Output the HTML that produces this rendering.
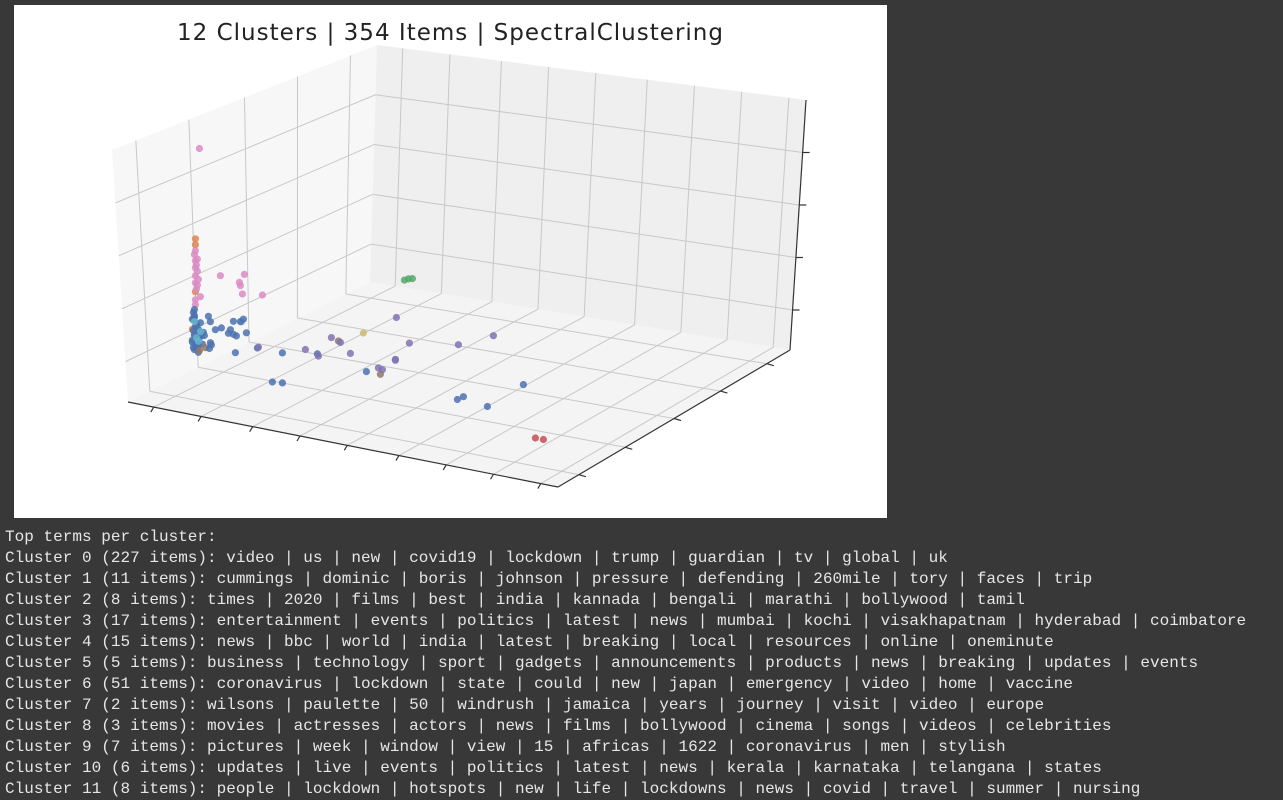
<!DOCTYPE html>
<html><head><meta charset="utf-8"><style>
html,body{margin:0;padding:0;background:#383838;width:1283px;height:784px;overflow:hidden}
#fig{position:absolute;left:14px;top:5px;width:873px;height:513px;background:#fff}
#out{position:absolute;left:5px;top:527px;font-family:"Liberation Mono","DejaVu Sans Mono",monospace;font-size:16px;letter-spacing:0.02px;line-height:21px;color:#e6e6e6;white-space:pre}
</style></head><body>
<div id="fig"></div>
<svg id="chart" width="1283" height="520" style="position:absolute;left:0;top:0">
<text x="450" y="40" text-anchor="middle" font-family="DejaVu Sans, Liberation Sans, sans-serif" font-size="23" fill="#222" textLength="546">12 Clusters | 354 Items | SpectralClustering</text>
<g id="box"></g><g id="pts"></g>
</svg>
<div id="out">Top terms per cluster:
Cluster 0 (227 items): video | us | new | covid19 | lockdown | trump | guardian | tv | global | uk
Cluster 1 (11 items): cummings | dominic | boris | johnson | pressure | defending | 260mile | tory | faces | trip
Cluster 2 (8 items): times | 2020 | films | best | india | kannada | bengali | marathi | bollywood | tamil
Cluster 3 (17 items): entertainment | events | politics | latest | news | mumbai | kochi | visakhapatnam | hyderabad | coimbatore
Cluster 4 (15 items): news | bbc | world | india | latest | breaking | local | resources | online | oneminute
Cluster 5 (5 items): business | technology | sport | gadgets | announcements | products | news | breaking | updates | events
Cluster 6 (51 items): coronavirus | lockdown | state | could | new | japan | emergency | video | home | vaccine
Cluster 7 (2 items): wilsons | paulette | 50 | windrush | jamaica | years | journey | visit | video | europe
Cluster 8 (3 items): movies | actresses | actors | news | films | bollywood | cinema | songs | videos | celebrities
Cluster 9 (7 items): pictures | week | window | view | 15 | africas | 1622 | coronavirus | men | stylish
Cluster 10 (6 items): updates | live | events | politics | latest | news | kerala | karnataka | telangana | states
Cluster 11 (8 items): people | lockdown | hotspots | new | life | lockdowns | news | covid | travel | summer | nursing</div>
<script>
// data: x in [0,430], y in [0,1], z in [0,250]
const clusterColors = ["#4c72b0","#dd8452","#55a868","#c44e52","#8172b3","#937860","#da8bc3","#8c8c8c","#ccb974","#64b5cd"];
const xs = [21,21,21,18,20,19,22, 21,21,23,21,23,21,21,23,26,21,21,22,24,20,22, 46,70,65,66,68,88,25,
 20,20,18,22,24,20,22,18,24,20,28,36,29,36,34,41,37,19,21,23,25,19,22,26,20,24,18,27,23,21,19,25,30,22, 26,22,67,24,20, 25,31,164,206,
 59,66,56,62,54,72,59,69,47,35,61,83,108,108,98,143,192,283,289,313,349,
 84,131,144,157,166,176,222,208,221,204,235,284,319,221, 189, 230,234,238, 361,369];
const ys = xs.map(()=>0.2);
const zs = [140,134,87,49,43,60,55, 128,118,120,111,108,103,96,94,83,79,74,90,100,124,114,
 108,114,105,102,94,97,231,
 69,61,59,53,50,44,39,36,34,29,36,39,48,60,65,53,37,31,33,41,46,48,55,57,63,27,38,44,30,52,66,42,45,35, 48,41,66,38,57, 29,33,66,41,
 65,66,56,51,52,56,52,69,56,33,34,43,43,13,12,49,41,31,35,30,59,
 44,51,47,68,65,56,101,46,59,47,78,86,102,58, 79, 140,142,143, 8,8];
const labels = [1,1,1,1,1,1,1, 6,6,6,6,6,6,6,6,6,6,6,6,6,6,6, 6,6,6,6,6,6,6,
 0,0,0,0,0,0,0,0,0,0,0,0,0,0,0,0,0,0,0,0,0,0,0,0,0,0,0,0,0,0,0,0,0,0, 9,9,9,9,9, 5,5,5,5,
 0,0,0,0,0,0,0,0,0,0,0,0,0,0,0,0,0,0,0,0,0,
 4,4,4,4,4,4,4,4,4,4,4,4,4,4, 8, 2,2,2, 3,3];

const NS="http://www.w3.org/2000/svg";
function proj(x,y,z){const u=x/430,v=y,w=z/250;return [128+430*u+232*v, 402+85*u-137*v-250*w];}
function mk(tag,attrs,parent){const e=document.createElementNS(NS,tag);for(const k in attrs)e.setAttribute(k,attrs[k]);parent.appendChild(e);return e;}
const box=document.getElementById('box');
const B={l:[128,402],f:[558,487],r:[790,350],b:[370,282]};
const T={l:[112,150],f:[548,210],r:[806,100],b:[377,45]};
const lerp=(a,b,t)=>[a[0]+(b[0]-a[0])*t,a[1]+(b[1]-a[1])*t];
const pt=p=>p.join(',');
let e;
e=mk('polygon',{points:[B.l,B.b,B.r,B.f].map(pt).join(' '),fill:'#f4f4f4'},box);


e=mk('polygon',{points:[B.l,B.b,T.b,T.l].map(pt).join(' '),fill:'#f7f7f7'},box);


e=mk('polygon',{points:[B.b,B.r,T.r,T.b].map(pt).join(' '),fill:'#efefef'},box);


const uT=[0.06,0.17,0.29,0.4,0.51,0.63,0.74,0.85,0.96];
const vT=[0.09,0.29,0.5,0.7,0.9];
const wT=[0.16,0.37,0.58,0.79];
const gl={stroke:'#c8c8c8','stroke-width':1};
function line(a,b,name,st){const l=mk('line',Object.assign({x1:a[0],y1:a[1],x2:b[0],y2:b[1]},st),box);}
uT.forEach(t=>{line(lerp(B.l,B.f,t),lerp(B.b,B.r,t),'grid-floor-u',gl);line(lerp(B.b,B.r,t),lerp(T.b,T.r,t),'grid-back-u',gl);});
vT.forEach(t=>{line(lerp(B.l,B.b,t),lerp(B.f,B.r,t),'grid-floor-v',gl);line(lerp(B.l,B.b,t),lerp(T.l,T.b,t),'grid-left-v',gl);});
wT.forEach(t=>{line(lerp(B.l,T.l,t),lerp(B.b,T.b,t),'grid-left-w',gl);line(lerp(B.b,T.b,t),lerp(B.r,T.r,t),'grid-back-w',gl);});
const ax={stroke:'#333','stroke-width':1.2};
line(B.l,B.f,'x-axis-line',ax);line(B.f,B.r,'y-axis-line',ax);line(B.r,T.r,'z-axis-line',ax);
uT.forEach(t=>{const p=lerp(B.l,B.f,t);line(p,[p[0]-3,p[1]+5],'x-tick',ax);});
vT.forEach(t=>{const p=lerp(B.f,B.r,t);line(p,[p[0]+7,p[1]+2],'y-tick',ax);});
wT.forEach(t=>{const p=lerp(B.r,T.r,t);line(p,[p[0]+7,p[1]],'z-tick',ax);});
const g=document.getElementById('pts');
xs.forEach((x,i)=>{const p=proj(x,ys[i],zs[i]);
 const c=mk('circle',{cx:p[0].toFixed(1),cy:p[1].toFixed(1),r:3.6,fill:clusterColors[labels[i]],'fill-opacity':0.85},g);
 
 
});
</script>
</body></html>
